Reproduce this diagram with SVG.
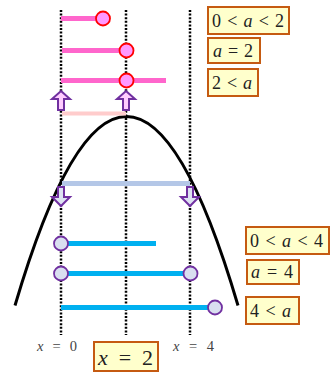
<svg xmlns="http://www.w3.org/2000/svg" width="334" height="372" viewBox="0 0 334 372">
<style>
.dot{stroke:#000;stroke-width:2.5;stroke-dasharray:2 1.6;fill:none}
.pink{stroke:#FF66CC;stroke-width:5;fill:none}
.blue{stroke:#00B0F0;stroke-width:5;fill:none}
.pc{fill:#FF99FF;stroke:#FF0000;stroke-width:1.8}
.bc{fill:#D9DFF0;stroke:#7030A0;stroke-width:1.8}
.up{fill:#FFCCFF;stroke:#7030A0;stroke-width:2;stroke-linejoin:miter}
.dn{fill:#DDE2F2;stroke:#7030A0;stroke-width:2;stroke-linejoin:miter}
.box{fill:#FFFFCC;stroke:#C55A11;stroke-width:2}
.t{font-family:"Liberation Serif",serif;fill:#222}
.i{font-style:italic}
.lab{font-family:"Liberation Serif",serif;fill:#444;font-size:14.5px}
</style>
<g id="axes">
<line class="dot" x1="61" y1="10" x2="61" y2="335"/>
<line class="dot" x1="126" y1="10" x2="126" y2="335"/>
<line class="dot" x1="190" y1="10" x2="190" y2="335"/>
</g>
<g id="parabola">
<path d="M15,305.5 Q126.5,-72.5 238,305.5" fill="none" stroke="#000" stroke-width="3"/>
</g>
<g id="connectors">
<line x1="62" y1="113.5" x2="126" y2="113.5" stroke="#FFCCCC" stroke-width="4"/>
<line x1="62" y1="183.5" x2="190" y2="183.5" stroke="#B4C7E7" stroke-width="5"/>
<path class="up" d="M61,91 L70,99 L64,99 L64,110 L58,110 L58,99 L52,99 Z"/>
<path class="up" d="M126,91 L135,99 L129,99 L129,110 L123,110 L123,99 L117,99 Z"/>
<path class="dn" d="M58,187 L64,187 L64,197 L70,197 L61,206 L52,197 L58,197 Z"/>
<path class="dn" d="M187,187 L193,187 L193,197 L199,197 L190,206 L181,197 L187,197 Z"/>
</g>
<g id="pink1"><line class="pink" x1="61" y1="18.5" x2="103" y2="18.5"/><circle class="pc" cx="103" cy="18.5" r="7"/></g>
<g id="pink2"><line class="pink" x1="62" y1="50.5" x2="126" y2="50.5"/><circle class="pc" cx="126.5" cy="50.5" r="7"/></g>
<g id="pink3"><line class="pink" x1="61" y1="80.5" x2="166" y2="80.5"/><circle class="pc" cx="126.5" cy="80.5" r="7"/></g>
<g id="blue1"><line class="blue" x1="61" y1="243.5" x2="156" y2="243.5"/><circle class="bc" cx="61" cy="243.5" r="7"/></g>
<g id="blue2"><line class="blue" x1="61" y1="273.5" x2="190" y2="273.5"/><circle class="bc" cx="61" cy="273.5" r="7"/><circle class="bc" cx="190.5" cy="273.5" r="7"/></g>
<g id="blue3"><line class="blue" x1="61" y1="307.5" x2="215" y2="307.5"/><circle class="bc" cx="215" cy="307.5" r="7"/></g>
<g id="label-0a2"><rect class="box" x="208" y="7" width="81" height="27"/><text class="t" x="212" y="27" font-size="18" textLength="72" lengthAdjust="spacing">0 &lt; <tspan class="i">a</tspan> &lt; 2</text></g>
<g id="label-a2"><rect class="box" x="208" y="38" width="52" height="25"/><text class="t" x="213" y="57" font-size="18" textLength="40" lengthAdjust="spacing"><tspan class="i">a</tspan> = 2</text></g>
<g id="label-2a"><rect class="box" x="208" y="69" width="50" height="27"/><text class="t" x="212" y="89" font-size="18" textLength="40" lengthAdjust="spacing">2 &lt; <tspan class="i">a</tspan></text></g>
<g id="label-0a4"><rect class="box" x="246" y="227" width="83" height="27"/><text class="t" x="250" y="247" font-size="18" textLength="73" lengthAdjust="spacing">0 &lt; <tspan class="i">a</tspan> &lt; 4</text></g>
<g id="label-a4"><rect class="box" x="247" y="260" width="52" height="24"/><text class="t" x="251" y="278" font-size="18" textLength="42" lengthAdjust="spacing"><tspan class="i">a</tspan> = 4</text></g>
<g id="label-4a"><rect class="box" x="246" y="297" width="53" height="27"/><text class="t" x="250" y="317" font-size="18" textLength="41" lengthAdjust="spacing">4 &lt; <tspan class="i">a</tspan></text></g>
<g id="label-x2"><rect class="box" x="94" y="342" width="64" height="29"/><text class="t" x="98" y="364.5" font-size="22" textLength="55" lengthAdjust="spacing"><tspan class="i">x</tspan> = 2</text></g>
<g id="label-x0"><text class="lab" x="37" y="351" textLength="40" lengthAdjust="spacing"><tspan class="i">x</tspan> = 0</text></g>
<g id="label-x4"><text class="lab" x="173" y="351" textLength="41" lengthAdjust="spacing"><tspan class="i">x</tspan> = 4</text></g>
</svg>
